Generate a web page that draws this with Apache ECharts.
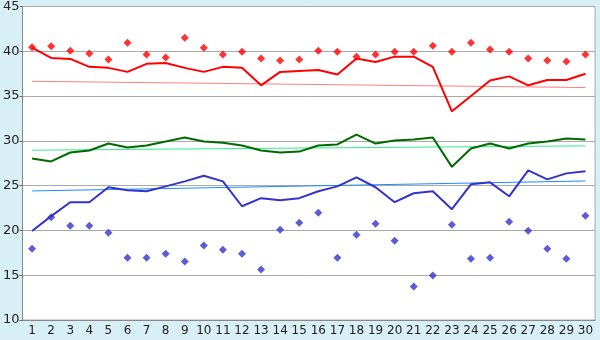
<!DOCTYPE html>
<html><head><meta charset="utf-8">
<script src="https://cdn.jsdelivr.net/npm/echarts@6/dist/echarts.min.js"></script>
<style>html,body{margin:0;padding:0;background:#d9eff6}#c{width:600px;height:340px}</style>
</head><body><div id="c"></div>
<script>
var categories = ['1','2','3','4','5','6','7','8','9','10','11','12','13','14','15','16','17','18','19','20','21','22','23','24','25','26','27','28','29','30'];
var yTicks = [10,15,20,25,30,35,40,45];
var redLine = [40.4,39.26,39.15,38.26,38.15,37.7,38.6,38.7,38.15,37.7,38.26,38.15,36.2,37.7,37.8,37.9,37.4,39.2,38.8,39.4,39.4,38.26,33.3,35.0,36.74,37.2,36.2,36.8,36.8,37.5];
var redPoints = [40.45,40.56,40.07,39.74,39.07,40.96,39.63,39.3,41.5,40.4,39.63,39.96,39.2,38.96,39.07,40.07,39.96,39.4,39.63,39.96,39.96,40.63,39.96,40.96,40.19,39.96,39.19,38.96,38.85,39.63];
var redTrend = [36.65,35.95];
var greenLine = [28.03,27.7,28.7,28.92,29.7,29.26,29.48,29.92,30.37,29.92,29.8,29.48,28.92,28.7,28.8,29.48,29.6,30.7,29.7,30.03,30.15,30.37,27.1,29.15,29.7,29.15,29.7,29.92,30.26,30.15];
var greenTrend = [28.96,29.44];
var blueLine = [19.93,21.6,23.15,23.15,24.82,24.48,24.37,24.92,25.48,26.1,25.48,22.7,23.6,23.37,23.6,24.37,24.92,25.93,24.82,23.15,24.15,24.37,22.37,25.15,25.37,23.81,26.7,25.7,26.37,26.6];
var bluePoints = [17.96,21.48,20.52,20.52,19.74,16.96,16.96,17.4,16.52,18.33,17.85,17.4,15.63,20.07,20.85,21.96,16.96,19.52,20.74,18.85,13.74,14.96,20.63,16.85,16.96,20.96,19.96,17.96,16.85,21.63];
var blueTrend = [24.41,25.52];

function trend(ends){
  var d = categories.map(function(){return null;});
  d[0] = ends[0]; d[d.length-1] = ends[1];
  return d;
}
function line(data,color,w){
  return {type:'line',data:data,showSymbol:false,symbol:'none',connectNulls:true,
    lineStyle:{color:color,width:w},itemStyle:{color:color},z:w>1?5:3};
}
function pts(data,color){
  return {type:'scatter',data:data,symbol:'diamond',symbolSize:8,itemStyle:{color:color},z:6};
}
var chart = echarts.init(document.getElementById('c'));
chart.setOption({
  animation:false,
  backgroundColor:'#d9eff6',
  grid:{left:20,right:5,top:5,bottom:20,show:true,backgroundColor:'#ffffff',borderColor:'#aaaaaa',borderWidth:1},
  xAxis:{type:'category',data:categories,boundaryGap:true,
    axisLine:{lineStyle:{color:'#888888'}},
    axisTick:{alignWithLabel:true,length:4,lineStyle:{color:'#666666'}},
    axisLabel:{color:'#222',fontFamily:'DejaVu Sans',fontSize:12,margin:5,interval:0},
    splitLine:{show:false}},
  yAxis:{type:'value',min:yTicks[0],max:yTicks[yTicks.length-1],interval:5,
    axisLine:{show:true,lineStyle:{color:'#888888'}},
    axisTick:{show:true,length:3,lineStyle:{color:'#666666'}},
    axisLabel:{color:'#222',fontFamily:'DejaVu Sans',fontSize:13,margin:3},
    splitLine:{lineStyle:{color:'#aaaaaa',width:1}}},
  series:[
    line(trend(redTrend),'#ff8080',1),
    line(trend(greenTrend),'#33ee88',1),
    line(trend(blueTrend),'#1a8cff',1),
    line(redLine,'#ff0000',2),
    line(greenLine,'#006a00',2),
    line(blueLine,'#3333cc',2),
    pts(redPoints,'#ff0000'),
    pts(bluePoints,'#3333cc')
  ]
});
</script></body></html>
